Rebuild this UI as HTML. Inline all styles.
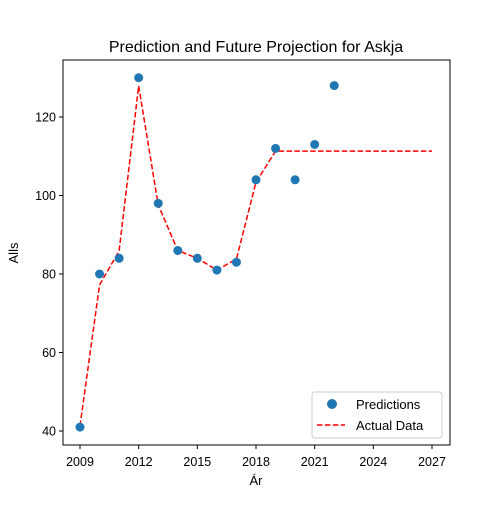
<!DOCTYPE html>
<html><head><meta charset="utf-8"><style>
body{margin:0;background:#fff;font-family:"Liberation Sans","DejaVu Sans",sans-serif}
</style></head><body>
<svg width="500" height="500" xmlns="http://www.w3.org/2000/svg">
<rect width="500" height="500" fill="#fff"/>
<text x="256" y="52" font-size="16" text-anchor="middle">Prediction and Future Projection for Askja</text>
<g id="marks"></g>
<rect x="63" y="60" width="387" height="385" fill="none" stroke="#000" stroke-width="1"/>
<g id="ticks" font-size="12.5"></g>
<text x="256" y="485" font-size="13" text-anchor="middle">Ár</text>
<text x="18" y="253" font-size="13" text-anchor="middle" transform="rotate(-90 18 253)">Alls</text>
<g>
<rect x="312" y="392" width="130" height="46" rx="3" fill="#fff" stroke="#ccc"/>
<circle cx="332" cy="404" r="5" fill="#1f77b4"/>
<text x="356" y="409" font-size="13">Predictions</text>
<line x1="317" y1="425" x2="345" y2="425" stroke="red" stroke-width="1.5" stroke-dasharray="5.5,2.4"/>
<text x="356" y="430" font-size="13">Actual Data</text>
</g>
</svg>
<script>
const predYears=[2009,2010,2011,2012,2013,2014,2015,2016,2017,2018,2019,2020,2021,2022];
const predValues=[41,80,84,130,98,86,84,81,83,104,112,104,113,128];
const lineYears=[2009,2010,2011,2012,2013,2014,2015,2016,2017,2018,2019,2020,2021,2022,2023,2024,2025,2026,2027];
const lineValues=[41.3,77.2,85.9,127.9,97.6,86,84,81,83.8,103.4,111.3,111.3,111.3,111.3,111.3,111.3,111.3,111.3,111.3];
const xTicks=[2009,2012,2015,2018,2021,2024,2027];
const yTicks=[40,60,80,100,120];
const X=v=>80+(v-2009)*(352/18);
const Y=v=>431-(v-40)*(314/80);
const NS="http://www.w3.org/2000/svg";
const marks=document.getElementById('marks'),ticks=document.getElementById('ticks');
const pl=document.createElementNS(NS,'polyline');
pl.setAttribute('points',lineYears.map((y,i)=>X(y)+','+Y(lineValues[i])).join(' '));
pl.setAttribute('fill','none');pl.setAttribute('stroke','red');pl.setAttribute('stroke-width','1.5');pl.setAttribute('stroke-dasharray','5.5,2.4');


marks.appendChild(pl);
predYears.forEach((y,i)=>{const c=document.createElementNS(NS,'circle');
c.setAttribute('cx',X(y));c.setAttribute('cy',Y(predValues[i]));c.setAttribute('r',4.5);c.setAttribute('fill','#1f77b4');


marks.appendChild(c);});
xTicks.forEach(t=>{const l=document.createElementNS(NS,'line');l.setAttribute('x1',X(t));l.setAttribute('x2',X(t));l.setAttribute('y1',445);l.setAttribute('y2',449);l.setAttribute('stroke','#000');


ticks.appendChild(l);
const s=document.createElementNS(NS,'text');s.setAttribute('x',X(t));s.setAttribute('y',466);s.setAttribute('text-anchor','middle');s.textContent=t;


ticks.appendChild(s);});
yTicks.forEach(t=>{const l=document.createElementNS(NS,'line');l.setAttribute('x1',59);l.setAttribute('x2',63);l.setAttribute('y1',Y(t));l.setAttribute('y2',Y(t));l.setAttribute('stroke','#000');


ticks.appendChild(l);
const s=document.createElementNS(NS,'text');s.setAttribute('x',56);s.setAttribute('y',Y(t)+4.5);s.setAttribute('text-anchor','end');s.textContent=t;


ticks.appendChild(s);});
</script>
</body></html>
